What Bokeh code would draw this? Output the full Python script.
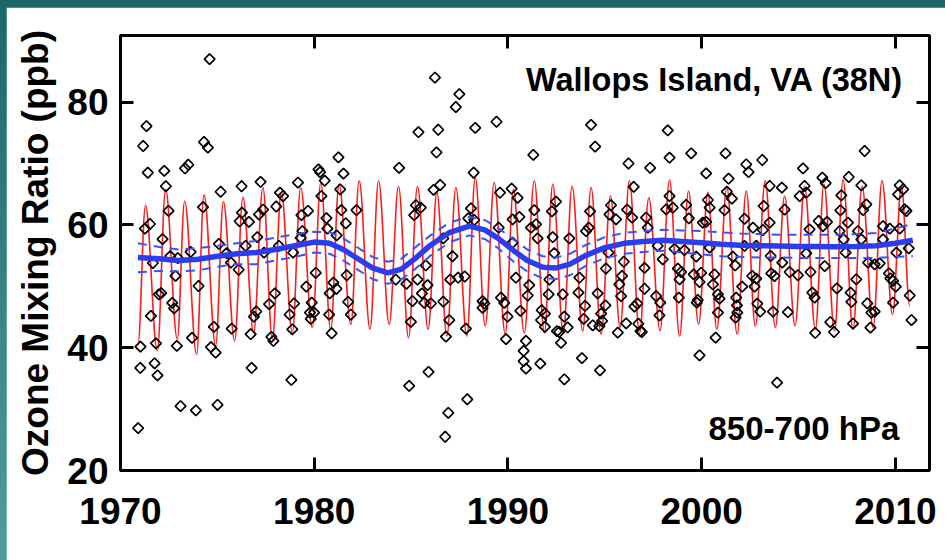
import numpy as np
from bokeh.plotting import figure
from bokeh.models import Range1d, FixedTicker, LinearAxis, Label
from bokeh.layouts import column
from bokeh.embed import file_html
from bokeh.resources import INLINE

# ---------------- data ----------------
x_ticks = [1970, 1980, 1990, 2000, 2010]
y_ticks = [20, 40, 60, 80]

seg1_year = [1974.60, 1971.34, 1971.17, 1974.31, 1974.51, 1971.41, 1972.26, 1973.33, 1973.50, 1972.34,
             1976.25, 1975.17, 1972.48, 1974.26, 1971.26, 1971.52, 1976.27, 1976.15, 1976.63, 1972.17,
             1971.67, 1972.57, 1972.96, 1973.62, 1975.08, 1975.48, 1975.70, 1976.10, 1976.46, 1972.84,
             1971.98, 1972.10, 1974.03, 1972.67, 1972.77, 1971.57, 1974.82, 1975.74, 1976.72, 1971.03,
             1971.83, 1972.91, 1973.69, 1974.67, 1974.91, 1971.02, 1971.76, 1971.91, 1973.10, 1973.89,
             1975.01, 1970.91, 1976.77]
seg1_ppb = [87.0, 76.1, 72.85, 73.5, 72.6, 68.5, 68.8, 69.2, 69.8, 66.3,
            66.3, 65.4, 62.3, 62.9, 59.4, 60.15, 62.0, 60.6, 60.5, 57.7,
            53.8, 54.9, 54.6, 55.6, 56.9, 55.4, 53.85, 52.7, 56.6, 51.7,
            48.7, 48.9, 50.05, 47.3, 46.4, 45.17, 43.4, 43.1, 42.2, 40.17,
            40.7, 40.3, 41.6, 40.1, 39.2, 36.7, 37.46, 35.5, 30.5, 29.8,
            30.7, 26.9, 36.7]

seg2_year = [1977.23, 1977.15, 1977.36, 1977.06, 1977.41, 1978.23, 1978.39, 1978.04, 1979.16, 1979.34,
             1979.68, 1979.39, 1979.30, 1978.18, 1978.91, 1980.22, 1980.30, 1980.54, 1981.25, 1981.51,
             1980.37, 1981.34, 1980.63, 1980.68, 1981.40, 1981.63, 1981.16, 1982.18, 1977.97, 1977.67,
             1977.01, 1976.89, 1977.79, 1977.89, 1978.87, 1978.73, 1978.96, 1978.82, 1980.08, 1979.59,
             1979.87, 1979.78, 1979.99, 1979.82, 1980.80, 1980.99, 1981.15, 1980.77, 1980.90, 1981.68,
             1981.75, 1981.89]
seg2_ppb = [67.0, 61.7, 62.5, 58.0, 55.5, 65.25, 64.7, 63.0, 66.9, 61.6,
            62.3, 59.0, 57.9, 56.6, 55.5, 69.05, 68.6, 67.2, 71.0, 68.35,
            64.7, 65.8, 61.1, 59.4, 62.4, 60.26, 58.3, 62.4, 48.85, 47.1,
            45.9, 45.05, 41.75, 41.1, 43.0, 45.4, 47.2, 34.75, 52.2, 49.95,
            47.35, 45.7, 45.7, 44.7, 48.85, 50.6, 49.6, 45.4, 42.35, 51.8,
            47.45, 45.4]

seg3_year = [1986.23, 1987.49, 1987.31, 1985.38, 1986.40, 1988.31, 1989.41, 1986.31, 1984.38, 1988.23,
             1986.16, 1986.50, 1985.25, 1985.16, 1985.50, 1988.09, 1987.95, 1988.26, 1989.59, 1990.19,
             1990.50, 1990.24, 1990.59, 1989.52, 1990.24, 1986.66, 1987.14, 1985.76, 1984.21, 1984.76,
             1985.33, 1985.85, 1985.56, 1985.07, 1985.68, 1986.02, 1986.66, 1987.02, 1987.43, 1987.77,
             1984.99, 1986.97, 1986.80, 1987.83, 1988.69, 1988.78, 1988.69, 1989.64, 1989.81, 1989.98,
             1989.90, 1990.64, 1990.41, 1985.90, 1984.90, 1987.90, 1986.92, 1986.76]
seg3_ppb = [84.0, 81.3, 79.2, 75.1, 75.5, 75.8, 76.8, 71.8, 69.3, 68.5,
            65.7, 66.5, 63.2, 61.6, 62.8, 62.7, 61.07, 60.8, 65.25, 65.9,
            64.4, 60.9, 61.3, 59.55, 57.1, 57.8, 54.9, 53.4, 51.1, 50.4,
            51.1, 50.2, 48.85, 47.6, 47.3, 47.2, 47.5, 51.1, 51.4, 51.6,
            44.2, 44.5, 41.8, 43.1, 47.6, 47.2, 46.5, 48.15, 47.3, 45.05,
            41.4, 46.0, 51.4, 36.05, 33.77, 31.6, 29.4, 25.5]

seg4_year = [1991.31, 1994.29, 1994.50, 1996.22, 1997.34, 1996.49, 1991.36, 1991.19, 1991.45, 1991.53,
             1992.27, 1992.48, 1992.31, 1992.39, 1993.17, 1994.24, 1994.17, 1994.03, 1995.32, 1995.24,
             1995.58, 1996.15, 1996.41, 1997.13, 1997.22, 1995.19, 1995.06, 1995.98, 1995.89, 1997.05,
             1997.73, 1991.10, 1991.02, 1992.14, 1992.10, 1992.83, 1993.69, 1993.64, 1994.63, 1993.98,
             1995.03, 1995.75, 1995.84, 1996.67, 1996.53, 1997.05, 1997.65, 1991.74, 1991.91, 1991.71,
             1991.91, 1992.91, 1993.08, 1992.53, 1992.65, 1992.74, 1993.91, 1994.38, 1994.81, 1994.86,
             1994.72, 1995.67, 1996.10, 1996.73, 1996.84, 1996.91, 1990.93, 1990.81, 1990.81, 1990.93,
             1991.67, 1992.91, 1993.82, 1994.75]
seg4_ppb = [71.4, 76.3, 72.75, 70.0, 69.3, 66.2, 62.4, 59.55, 60.1, 57.8,
            62.2, 63.8, 58.0, 55.4, 57.8, 62.2, 59.55, 59.0, 63.2, 61.7,
            60.9, 62.5, 61.2, 61.2, 59.55, 55.5, 52.9, 54.0, 51.7, 53.0,
            56.6, 50.2, 48.5, 51.1, 48.7, 48.7, 51.4, 48.97, 48.85, 46.8,
            46.9, 50.3, 48.4, 47.2, 46.7, 49.6, 48.4, 46.1, 45.55, 44.5,
            43.4, 45.05, 43.3, 42.7, 42.56, 40.8, 44.7, 43.65, 45.55, 44.35,
            43.5, 42.45, 43.97, 43.9, 42.7, 42.56, 41.1, 39.47, 37.8, 36.6,
            37.4, 34.85, 38.3, 36.3]

seg5_year = [1998.25, 1998.34, 1999.46, 2001.23, 2000.23, 2002.30, 2002.42, 2003.13, 2001.39, 2001.30,
             2001.56, 2003.51, 2004.14, 1998.34, 1998.17, 1998.51, 1999.20, 1999.34, 2000.32, 2000.41,
             2001.18, 2002.21, 2002.65, 2003.20, 2003.51, 2003.16, 2004.28, 2000.06, 2000.23, 1997.99,
             1998.60, 1999.11, 1999.72, 2000.41, 2001.61, 2001.73, 2002.21, 2002.82, 2003.56, 2004.16,
             2004.54, 1998.77, 1998.94, 1998.86, 1999.59, 1999.97, 1999.89, 2000.66, 2000.58, 2000.84,
             2000.92, 2000.84, 1999.80, 1999.75, 1998.82, 1997.86, 1997.82, 2001.78, 2001.82, 2001.84,
             2001.75, 2002.09, 2002.61, 2002.82, 2002.73, 2002.87, 2003.02, 2003.59, 2003.76, 2003.68,
             2004.45, 1999.89, 2000.72, 2003.89]
seg5_ppb = [75.4, 70.95, 71.66, 71.66, 68.4, 69.87, 68.6, 70.57, 67.53, 65.42,
            64.28, 66.34, 66.07, 64.7, 62.54, 62.8, 63.25, 61.07, 64.06, 62.8,
            62.4, 61.0, 59.55, 63.08, 60.37, 59.17, 62.5, 60.37, 60.48, 54.4,
            56.1, 55.9, 54.83, 56.3, 54.83, 53.4, 56.57, 56.57, 54.94, 53.85,
            52.33, 52.87, 52.33, 51.14, 51.95, 52.2, 50.7, 51.95, 50.3, 48.7,
            48.0, 45.7, 47.77, 47.34, 48.15, 47.34, 45.27, 48.15, 46.9, 45.7,
            44.9, 49.95, 51.68, 51.25, 49.95, 47.17, 45.87, 52.1, 51.68, 45.87,
            45.8, 38.76, 41.64, 34.31]

seg6_year = [2008.41, 2005.23, 2006.23, 2006.40, 2007.59, 2008.24, 2005.31, 2005.40, 2005.06, 2007.21,
             2010.22, 2010.40, 2010.14, 2010.48, 2010.57, 2007.16, 2008.33, 2008.50, 2006.04, 2006.26,
             2006.47, 2005.57, 2007.55, 2007.12, 2007.33, 2008.07, 2008.24, 2009.36, 2009.71, 2009.36,
             2010.22, 2010.69, 2005.40, 2004.97, 2005.62, 2006.35, 2007.43, 2008.59, 2008.93, 2009.19,
             2010.05, 2009.67, 2009.74, 2009.88, 2010.02, 2007.98, 2006.98, 2005.71, 2005.83, 2007.69,
             2007.73, 2008.55, 2008.76, 2008.93, 2009.88, 2010.74, 2010.83, 2005.86, 2006.64, 2006.83,
             2007.81, 2008.71]
seg6_ppb = [72.04, 69.2, 67.7, 66.8, 67.8, 66.45, 66.34, 65.25, 64.7, 64.82,
            66.45, 65.8, 64.98, 62.54, 62.27, 62.38, 62.43, 63.35, 60.64, 59.8,
            60.48, 59.28, 60.37, 59.0, 57.65, 59.0, 57.65, 59.8, 59.4, 57.65,
            59.4, 56.18, 55.37, 51.8, 52.33, 53.3, 55.5, 53.85, 53.58, 53.74,
            55.48, 52.12, 51.3, 50.87, 49.95, 51.14, 49.67, 48.97, 48.15, 48.97,
            47.45, 47.23, 45.7, 45.87, 47.34, 48.5, 44.5, 42.4, 44.18, 42.56,
            43.92, 43.27]

# seasonal fit (red): successive maxima / minima
fit_year = [1970.90, 1971.29, 1971.90, 1972.33, 1972.93, 1973.31, 1973.93, 1974.31, 1974.91, 1975.31,
            1975.89, 1976.32, 1976.87, 1977.35, 1977.84, 1978.30, 1978.87, 1979.30, 1979.90, 1980.34,
            1980.85, 1981.28, 1981.89, 1982.32, 1982.88, 1983.32, 1983.87, 1984.35, 1984.87, 1985.33,
            1985.88, 1986.33, 1986.85, 1987.31, 1987.88, 1988.31, 1988.83, 1989.29, 1989.86, 1990.28,
            1990.84, 1991.36, 1991.88, 1992.31, 1992.86, 1993.31, 1993.86, 1994.29, 1994.81, 1995.29,
            1995.79, 1996.27, 1996.79, 1997.27, 1997.85, 1998.34, 1998.86, 1999.32, 1999.84, 2000.32,
            2000.78, 2001.30, 2001.83, 2002.30, 2002.77, 2003.28, 2003.80, 2004.28, 2004.82, 2005.31,
            2005.87, 2006.31, 2006.86, 2007.30, 2007.81, 2008.28, 2008.85, 2009.31, 2009.85, 2010.31,
            2010.74]
fit_ppb = [40.5, 63.2, 39.5, 65.8, 41.4, 63.9, 38.9, 64.9, 40.3, 63.8,
           41.1, 64.5, 42.4, 66.1, 41.4, 65.3, 42.4, 66.1, 43.3, 66.9,
           43.0, 66.6, 43.8, 67.2, 43.0, 67.2, 43.8, 66.3, 41.6, 66.3,
           43.0, 65.3, 41.9, 66.1, 41.9, 67.7, 43.5, 66.9, 42.2, 65.8,
           42.4, 67.2, 42.4, 66.6, 42.4, 66.3, 42.7, 66.1, 42.2, 64.7,
           43.3, 67.2, 42.4, 64.4, 42.8, 67.3, 41.9, 65.5, 43.8, 65.3,
           43.0, 66.1, 42.2, 65.5, 43.5, 67.2, 43.3, 64.7, 43.6, 66.3,
           43.0, 66.6, 42.7, 67.4, 43.0, 66.3, 43.3, 67.2, 45.4, 66.3,
           46.8]

# long-term trend (blue) and its confidence band (dashed)
trend_year = [1970.9, 1972, 1973, 1974, 1975, 1976, 1977, 1978, 1979, 1980, 1980.8, 1981.5, 1982.3,
              1983, 1983.8, 1984.5, 1985.2, 1986, 1987, 1988, 1988.8, 1989.5, 1990.3, 1991, 1991.8,
              1992.5, 1993.2, 1994, 1995, 1996, 1997, 1998, 1999, 2000, 2001, 2002, 2003, 2004, 2005,
              2006, 2007, 2008, 2009, 2010, 2010.9]
trend_ppb = [54.7, 54.5, 54.2, 54.4, 54.9, 55.3, 55.5, 56.0, 56.6, 57.2, 57.0, 56.0, 54.4,
             53.0, 52.2, 52.8, 54.5, 56.7, 58.8, 59.8, 59.2, 57.8, 55.8, 54.2, 53.1,
             53.0, 53.6, 55.0, 56.3, 57.0, 57.3, 57.5, 57.3, 57.1, 56.85, 56.7, 56.6, 56.55, 56.5,
             56.5, 56.45, 56.5, 56.6, 57.0, 57.5]
band_upper = [57.0, 56.4, 56.0, 56.2, 56.6, 57.0, 57.4, 57.9, 58.5, 58.9, 58.8, 57.8, 56.2,
              54.8, 54.0, 54.5, 56.3, 58.3, 60.4, 61.3, 60.8, 59.5, 57.6, 56.0, 54.9,
              54.7, 55.3, 56.7, 58.0, 58.7, 59.0, 59.2, 59.1, 59.0, 58.8, 58.6, 58.5, 58.4, 58.4,
              58.4, 58.4, 58.5, 58.7, 59.4, 60.2]
band_lower = [52.3, 52.5, 52.4, 52.6, 53.2, 53.6, 53.6, 54.2, 54.8, 55.5, 55.3, 54.2, 52.6,
              51.2, 50.4, 51.1, 52.8, 55.0, 57.2, 58.3, 57.7, 56.2, 54.0, 52.4, 51.3,
              51.2, 51.8, 53.3, 54.6, 55.3, 55.6, 55.8, 55.5, 55.2, 54.9, 54.8, 54.7, 54.7, 54.6,
              54.6, 54.6, 54.6, 54.6, 54.8, 54.9]

station_label = "Wallops Island, VA (38N)"
level_label = "850-700 hPa"
y_title = "Ozone Mixing Ratio (ppb)"

# ---------------- figure ----------------
FONT = "Liberation Sans"

p = figure(width=939, height=553,
           x_range=Range1d(1970, 2011.76), y_range=Range1d(20, 90.85),
           output_backend="svg", toolbar_location=None,
           min_border_left=114, min_border_right=16, min_border_top=28, min_border_bottom=90)
p.margin = (7, 0, 0, 6)
p.background_fill_color = "white"
p.border_fill_color = "white"
p.outline_line_color = "black"
p.outline_line_width = 3
p.xgrid.visible = False
p.ygrid.visible = False

def style_axis(ax, ticks, show_labels):
    ax.ticker = FixedTicker(ticks=ticks)
    ax.axis_line_width = 3
    ax.axis_line_color = "black"
    ax.major_tick_in = 13
    ax.major_tick_out = 0
    ax.major_tick_line_width = 3
    ax.major_tick_line_color = "black"
    ax.minor_tick_line_color = None
    if show_labels:
        ax.major_label_text_font = FONT
        ax.major_label_text_font_size = "37px"
        ax.major_label_text_font_style = "bold"
        ax.major_label_text_color = "black"
    else:
        ax.major_label_overrides = {t: "" for t in ticks}
        ax.major_label_standoff = 0

style_axis(p.xaxis[0], x_ticks, True)
style_axis(p.yaxis[0], y_ticks, True)
p.xaxis[0].major_label_standoff = 27
p.yaxis[0].major_label_standoff = 12
p.yaxis[0].axis_label = y_title
p.yaxis[0].axis_label_text_font = FONT
p.yaxis[0].axis_label_text_font_size = "37px"
p.yaxis[0].axis_label_text_font_style = "bold"
p.yaxis[0].axis_label_text_color = "black"
p.yaxis[0].axis_label_standoff = 8

top_ax = LinearAxis()
style_axis(top_ax, x_ticks, False)
p.add_layout(top_ax, "above")
right_ax = LinearAxis()
style_axis(right_ax, y_ticks, False)
p.add_layout(right_ax, "right")

# seasonal fit drawn as smooth cubic segments between successive extrema
fy = np.array(fit_year)
fv = np.array(fit_ppb)
dx = np.diff(fy) * 0.3642
p.bezier(x0=fy[:-1], y0=fv[:-1], x1=fy[1:], y1=fv[1:],
         cx0=fy[:-1] + dx, cy0=fv[:-1], cx1=fy[1:] - dx, cy1=fv[1:],
         line_color="#ff1a1a", line_width=1.6)

obs_year = seg1_year + seg2_year + seg3_year + seg4_year + seg5_year + seg6_year
obs_ppb = seg1_ppb + seg2_ppb + seg3_ppb + seg4_ppb + seg5_ppb + seg6_ppb
p.scatter(obs_year, obs_ppb, marker="square", angle=np.pi / 4, size=7.5,
          fill_color=None, line_color="black", line_width=1.7)

p.line(trend_year, band_upper, line_color="#3355ff", line_width=2, line_dash="9 7")
p.line(trend_year, band_lower, line_color="#3355ff", line_width=2, line_dash="9 7")
p.line(trend_year, trend_ppb, line_color="#2a3ef0", line_width=5.5)

p.add_layout(Label(x=2010.41, y=83.65, text=station_label, text_align="right",
                   text_baseline="middle", text_font=FONT, text_font_size="32.5px",
                   text_font_style="bold", text_color="black"))
p.add_layout(Label(x=2010.2, y=26.76, text=level_label, text_align="right",
                   text_baseline="middle", text_font=FONT, text_font_size="33px",
                   text_font_style="bold", text_color="black"))

layout = column(p, width=945, height=560,
                styles={"background": "linear-gradient(#19676a, #4f9d9d)"})

open("out.html", "w").write(file_html(layout, INLINE))
